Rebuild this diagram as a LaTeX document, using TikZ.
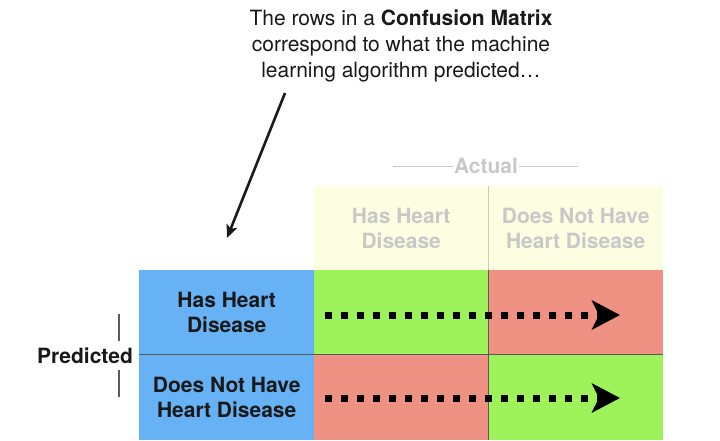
\documentclass[tikz,border=0pt]{standalone}
\usepackage{fontspec}
\setmainfont{TeX Gyre Heros}
\usetikzlibrary{arrows.meta}
\definecolor{cblue}{RGB}{102,178,245}
\definecolor{cgreen}{RGB}{158,242,90}
\definecolor{cred}{RGB}{239,146,131}
\definecolor{cyel}{RGB}{253,253,226}
\definecolor{cgray}{RGB}{200,200,200}
\definecolor{ctext}{RGB}{25,25,25}
\definecolor{cline}{RGB}{90,90,90}
\begin{document}
\begin{tikzpicture}[x=1pt,y=-1pt,
  cell/.style={rectangle, inner sep=0pt, anchor=north west, align=center,
    font=\fontsize{21}{25}\selectfont\bfseries, text=ctext},
  hcell/.style={cell, fill=cyel, text=cgray, minimum width=174pt, minimum height=84pt},
  dotarrow/.style={line width=7pt, dash pattern=on 7pt off 9pt, line cap=butt,
    -{Stealth[length=28pt,width=29pt,inset=7pt]}},
  tick/.style={line width=1.5pt, cline},
]
\useasboundingbox (0,0) rectangle (720,440);
% title
\node[align=center, font=\fontsize{21}{26}\selectfont, text=ctext] (title) at (401,46)
  {The rows in a \textbf{Confusion Matrix}\\correspond to what the machine\\learning algorithm predicted…};
\coordinate (arS) at (285,93);
\coordinate (arE) at (227,238);
\draw[line width=2.6pt, ctext, -{Stealth[length=13pt,width=11pt,inset=3pt]}] (arS) -- (arE);
% header
\node[hcell] (h1) at (314,186) {Has Heart\\Disease};
\node[hcell, minimum width=175pt] (h2) at (488,186) {Does Not Have\\Heart Disease};
\draw[cgray, line width=0.8pt] (h1.north east) -- (h1.south east);
\node[font=\fontsize{21}{22}\selectfont\bfseries, text=cgray, inner sep=1pt] (act) at (486,166) {Actual};
\coordinate (alL) at (393,166);
\coordinate (arR) at (578,166);
\draw[cgray, line width=1pt] (alL) -- (act.west);
\draw[cgray, line width=1pt] (act.east) -- (arR);
% predicted rows
\node[cell, fill=cblue, minimum width=175pt, minimum height=84pt] (p1) at (139,270) {Has Heart\\Disease};
\node[cell, fill=cblue, minimum width=175pt, minimum height=86pt] (p2) at (139,354) {Does Not Have\\Heart Disease};
% matrix cells
\node[cell, fill=cgreen, minimum width=174pt, minimum height=84pt] (c11) at (314,270) {};
\node[cell, fill=cred, minimum width=175pt, minimum height=84pt] (c12) at (488,270) {};
\node[cell, fill=cred, minimum width=174pt, minimum height=86pt] (c21) at (314,354) {};
\node[cell, fill=cgreen, minimum width=175pt, minimum height=86pt] (c22) at (488,354) {};
\draw[cline, line width=0.8pt] (p2.north west) -- (c22.north east);
\draw[cline, line width=0.8pt] (c12.north west) -- (c22.south west);
% Predicted label
\node[font=\fontsize{21}{22}\selectfont\bfseries, text=ctext] (pred) at (85,356) {Predicted};
\coordinate (t1a) at (119,314);
\coordinate (t1b) at (119,341);
\coordinate (t2a) at (119,370);
\coordinate (t2b) at (119,397);
\draw[tick] (t1a) -- (t1b);
\draw[tick] (t2a) -- (t2b);
% dotted arrows
\coordinate (d1s) at (325,315);
\coordinate (d1e) at (620,315);
\coordinate (d2s) at (325,398);
\coordinate (d2e) at (620,398);
\draw[dotarrow] (d1s) -- (d1e);
\draw[dotarrow] (d2s) -- (d2e);
\end{tikzpicture}
\end{document}
